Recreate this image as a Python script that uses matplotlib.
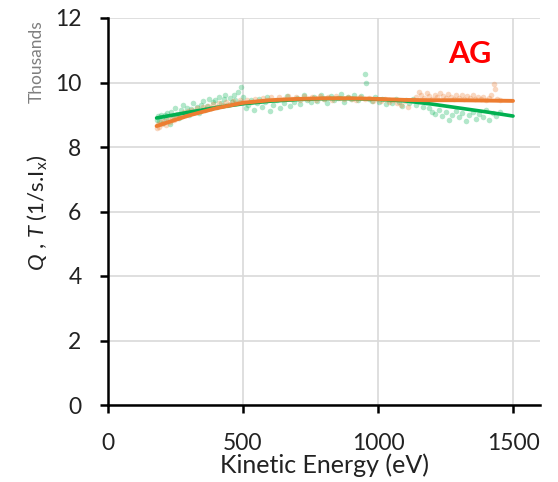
import matplotlib
matplotlib.use("Agg")
import matplotlib.pyplot as plt

plt.rcParams['font.family'] = ['Lato', 'DejaVu Sans']
plt.rcParams['mathtext.fontset'] = 'custom'
plt.rcParams['mathtext.rm'] = 'Lato'
plt.rcParams['mathtext.it'] = 'Lato:italic'

# ---- data (energies in eV, values in thousands) ----
green_x = [180, 185, 190, 195, 200, 205, 210, 215, 220, 228, 235, 240, 248, 255, 262, 270, 278, 285, 292, 300,
           308, 315, 322, 330, 338, 345, 352, 360, 368, 375, 382, 390, 398, 405, 412, 420, 428, 435, 442, 450,
           458, 465, 472, 480, 488, 493, 500, 510, 520, 530, 540, 550, 560, 570, 580, 590, 600, 612, 625, 638,
           650, 662, 675, 688, 700, 712, 725, 738, 750, 762, 775, 788, 800, 812, 825, 838, 850, 862, 875, 888,
           900, 912, 925, 938, 952, 955, 965, 978, 990, 1002, 1015, 1028, 1040, 1052, 1065, 1078, 1090, 1102,
           1115, 1128, 1140, 1152, 1165, 1178, 1190, 1200, 1212, 1225, 1238, 1250, 1262, 1275, 1288, 1300,
           1312, 1325, 1338, 1350, 1362, 1375, 1388, 1400, 1412, 1425, 1438, 1450]
green_y = [8.85, 8.95, 8.80, 9.00, 8.92, 8.75, 8.98, 8.88, 9.05, 8.70, 9.10, 8.95, 9.20, 9.02, 8.90, 9.15, 9.30, 9.05, 9.22, 8.98,
           9.18, 9.35, 9.10, 9.25, 9.05, 9.30, 9.42, 9.15, 9.28, 9.50, 9.20, 9.38, 9.45, 9.25, 9.55, 9.35, 9.48, 9.60, 9.30, 9.52,
           9.40, 9.62, 9.45, 9.70, 9.38, 9.86, 9.55, 9.20, 9.30, 9.45, 9.15, 9.35, 9.50, 9.25, 9.40, 9.55, 9.12, 9.30, 9.45, 9.22,
           9.35, 9.58, 9.28, 9.40, 9.52, 9.32, 9.60, 9.45, 9.38, 9.55, 9.42, 9.62, 9.48, 9.35, 9.58, 9.45, 9.52, 9.65, 9.40, 9.55,
           9.48, 9.62, 9.45, 9.58, 10.26, 9.98, 9.50, 9.42, 9.55, 9.38, 9.48, 9.32, 9.45, 9.35, 9.50, 9.40, 9.28, 9.45,
           9.35, 9.50, 9.30, 9.42, 9.25, 9.38, 9.20, 9.10, 9.02, 9.15, 8.95, 9.08, 8.85, 9.00, 9.12, 8.92,
           9.05, 8.80, 8.98, 9.10, 8.88, 9.02, 8.92, 9.15, 8.85, 9.05, 8.95, 9.08]

orange_x = [180, 185, 190, 195, 200, 208, 215, 222, 230, 238, 245, 252, 260, 268, 275, 282, 290, 298, 305, 312,
            320, 330, 340, 350, 360, 370, 380, 390, 400, 412, 425, 438, 450, 462, 475, 488, 500, 515, 530, 545,
            560, 575, 590, 605, 620, 635, 650, 665, 680, 695, 710, 725, 740, 755, 770, 785, 800, 815, 830, 845,
            860, 875, 890, 905, 920, 935, 950, 965, 980, 995, 1010, 1025, 1040, 1055, 1070, 1085, 1100, 1112,
            1125, 1140, 1150, 1160, 1170, 1180, 1190, 1200, 1210, 1220, 1230, 1240, 1250, 1260, 1270, 1280,
            1290, 1300, 1310, 1320, 1330, 1340, 1350, 1360, 1370, 1380, 1390, 1400, 1410, 1420, 1428, 1432,
            1440, 1450]
orange_y = [8.60, 8.72, 8.62, 8.78, 8.70, 8.82, 8.68, 8.88, 8.78, 8.92, 8.85, 8.98, 8.90, 9.02, 8.95, 9.08, 9.00, 9.12, 9.05, 9.15,
            9.10, 9.20, 9.12, 9.25, 9.18, 9.28, 9.22, 9.32, 9.25, 9.35, 9.30, 9.40, 9.33, 9.42, 9.36, 9.45, 9.38, 9.46, 9.40, 9.50,
            9.42, 9.52, 9.45, 9.55, 9.47, 9.56, 9.48, 9.58, 9.50, 9.55, 9.45, 9.58, 9.50, 9.54, 9.46, 9.57, 9.50, 9.55, 9.47, 9.58,
            9.52, 9.48, 9.56, 9.50, 9.45, 9.55, 9.48, 9.52, 9.44, 9.50, 9.42, 9.48, 9.38, 9.45, 9.35, 9.30, 9.42, 9.25,
            9.45, 9.55, 9.72, 9.60, 9.52, 9.66, 9.58, 9.50, 9.62, 9.55, 9.68, 9.58, 9.52, 9.64, 9.56, 9.50,
            9.60, 9.53, 9.62, 9.48, 9.58, 9.52, 9.60, 9.50, 9.56, 9.48, 9.55, 9.46, 9.52, 9.60, 9.95, 9.80,
            9.50, 9.45]

trend_x = [180, 300, 400, 500, 600, 700, 800, 900, 1000, 1100, 1200, 1300, 1400, 1500]
green_trend = [8.90, 9.08, 9.22, 9.34, 9.42, 9.47, 9.50, 9.50, 9.48, 9.43, 9.33, 9.21, 9.09, 8.96]
orange_trend = [8.65, 8.98, 9.20, 9.37, 9.45, 9.49, 9.51, 9.51, 9.49, 9.46, 9.45, 9.45, 9.44, 9.43]

x_ticks = [0, 500, 1000, 1500]
y_ticks = [0, 2, 4, 6, 8, 10, 12]

GREEN = '#00b050'
ORANGE = '#ed7d31'

fig = plt.figure(figsize=(5.58, 4.82), dpi=100)
ax = fig.add_axes([108/558, 1 - 405/482, (540-108)/558, (405-18)/482])

ax.plot(green_x, green_y, 'o', color=GREEN, ms=4, mew=0, alpha=0.3, zorder=2)
ax.plot(orange_x, orange_y, 'o', color=ORANGE, ms=4, mew=0, alpha=0.3, zorder=2)
ax.plot(trend_x, green_trend, '-', color=GREEN, lw=2.6, solid_capstyle='round', zorder=3)
ax.plot(trend_x, orange_trend, '-', color=ORANGE, lw=2.8, solid_capstyle='round', zorder=4)

ax.set_xlim(0, 1600)
ax.set_ylim(0, 12)
ax.set_xticks(x_ticks)
ax.set_yticks(y_ticks)
ax.grid(True, color='#d9d9d9', lw=1.2)
ax.set_axisbelow(True)
for s in ['top', 'right']:
    ax.spines[s].set_visible(False)
for s in ['left', 'bottom']:
    ax.spines[s].set_linewidth(1.8)
    ax.spines[s].set_color('black')
ax.tick_params(axis='both', direction='out', length=6, width=1.8, labelsize=16.5, colors='black')
ax.tick_params(axis='y', pad=13)
ax.tick_params(axis='x', pad=14)
for lab in ax.get_xticklabels() + ax.get_yticklabels():
    lab.set_color('#222222')

ax.set_xlabel('Kinetic Energy (eV)', fontsize=18, color='#222222', va='center')
ax.xaxis.set_label_coords(0.5, (405 - 465) / 387)

fig.text(37/558, 1 - 213/482, r'$\it{Q}$ , $\it{T}$ (1/s.I$_\mathregular{x}$)', rotation=90,
         ha='center', va='center', fontsize=16, color='#222222')
fig.text(37/558, 1 - 62/482, 'Thousands', rotation=90, ha='center', va='center',
         fontsize=12.5, color='#7f7f7f')

ax.text(1340, 10.88, 'AG', color='#ff0000', fontsize=22, fontweight='bold', ha='center', va='center')

fig.savefig('out.png', dpi=100)
